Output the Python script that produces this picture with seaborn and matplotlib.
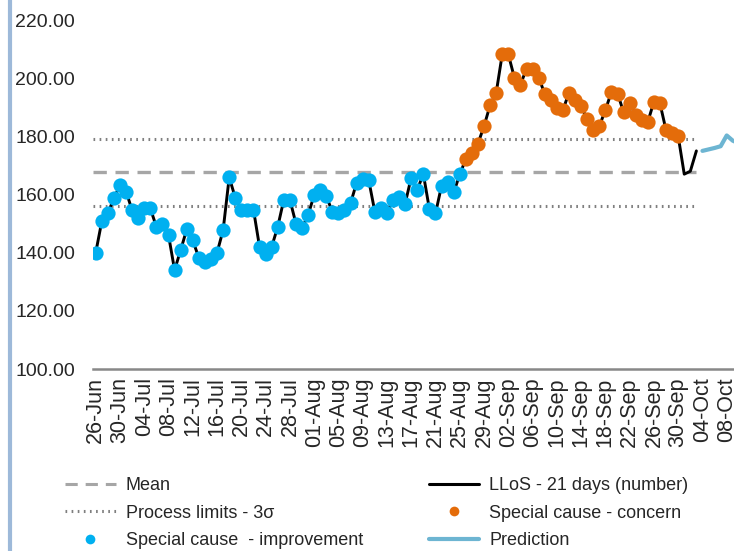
import matplotlib
matplotlib.use("Agg")
import matplotlib.pyplot as plt
from matplotlib.lines import Line2D
import pandas as pd
import seaborn as sns

# daily values, starting 26-Jun
START = "2021-06-26"
llos = [140.0, 150.8, 153.6, 158.7, 163.2, 161.0, 154.6, 152.0, 155.3, 155.2,
        148.9, 149.7, 146.0, 134.0, 140.9, 148.0, 144.2, 138.2, 136.8, 137.8,
        140.0, 147.8, 165.9, 158.9, 154.8, 154.8, 154.8, 142.0, 139.7, 142.0,
        148.9, 158.2, 158.2, 150.0, 148.4, 152.9, 159.8, 161.5, 159.5, 154.0,
        153.6, 154.8, 157.0, 164.0, 165.3, 164.9, 154.1, 155.2, 153.5, 158.2,
        159.2, 156.9, 165.8, 161.7, 167.0, 154.9, 153.5, 163.0, 164.4, 160.7,
        166.9, 172.2, 174.1, 177.5, 183.5, 190.7, 194.9, 208.2, 208.2, 200.2,
        197.8, 203.2, 203.0, 200.2, 194.7, 192.6, 189.6, 189.0, 195.0, 192.4,
        190.4, 185.8, 182.1, 183.5, 189.0, 195.3, 194.7, 188.4, 191.3, 187.3,
        185.6, 185.0, 191.9, 191.3, 182.1, 181.2, 180.1, 167.0, 168.0, 175.0]
signal = ["improvement"] * 61 + ["concern"] * 36 + ["none"] * 3
prediction = [175.0, 175.5, 176.0, 176.6, 180.3, 178.5, 177.6]

mean_value = 167.6
upper_limit = 179.0
lower_limit = 156.0

y_ticks = [100, 120, 140, 160, 180, 200, 220]

BLUE = "#00B0F0"
ORANGE = "#E46C0A"
PRED = "#6DB5D2"
DASH = (0, (4, 2.6))
DOT = (0, (0.55, 1.45))

dates = pd.date_range(START, periods=len(llos), freq="D")
df = pd.DataFrame({"date": dates, "llos": llos, "signal": signal})
pred_df = pd.DataFrame({
    "date": pd.date_range(dates[-1] + pd.Timedelta(days=1), periods=len(prediction), freq="D"),
    "value": prediction,
})
tick_dates = pd.date_range(START, periods=27, freq="4D")

sns.set_theme(style="white")
plt.rcParams["font.family"] = ["Liberation Sans", "DejaVu Sans"]

fig = plt.figure(figsize=(7.34, 5.51), dpi=100)
ax = fig.add_axes([0.1267, 0.3303, 0.8733, 0.6334])

day = pd.Timedelta(days=1)
x0 = dates[0] - 0.45 * day
x1 = dates[-1]
ax.hlines(mean_value, x0, x1, colors="#A6A6A6", linestyles=DASH, linewidth=2.4)
ax.hlines([upper_limit, lower_limit], x0, x1, colors="#7F7F7F",
          linestyles=DOT, linewidth=2.2)

sns.lineplot(data=df, x="date", y="llos", color="black", linewidth=2.1,
             estimator=None, ax=ax)
sns.lineplot(data=pred_df, x="date", y="value", color=PRED, linewidth=3,
             estimator=None, ax=ax)
sns.scatterplot(data=df[df["signal"] == "improvement"], x="date", y="llos",
                color=BLUE, s=105, linewidth=0, ax=ax, zorder=3)
sns.scatterplot(data=df[df["signal"] == "concern"], x="date", y="llos",
                color=ORANGE, s=105, linewidth=0, ax=ax, zorder=3)

ax.set_xlim(x0, dates[0] + 105.2 * day)
ax.set_ylim(100, 220)
ax.set_yticks(y_ticks)
ax.set_yticklabels([f"{v:.2f}" for v in y_ticks], fontsize=14, color="#262626")
ax.set_xticks(tick_dates)
ax.set_xticklabels([d.strftime("%d-%b") for d in tick_dates], rotation=90,
                   fontsize=15.5, color="#262626")
ax.tick_params(axis="y", length=0, pad=13)
ax.tick_params(axis="x", length=0, pad=6)
ax.set_xlabel("")
ax.set_ylabel("")
for side in ["top", "right", "left"]:
    ax.spines[side].set_visible(False)
ax.spines["bottom"].set_color("#888888")
ax.spines["bottom"].set_linewidth(1.8)
ax.spines["bottom"].set_zorder(0)

handles = [
    Line2D([], [], color="#A6A6A6", linestyle=DASH, linewidth=2.2),
    Line2D([], [], color="#7F7F7F", linestyle=DOT, linewidth=2.2),
    Line2D([], [], color=BLUE, marker="o", linestyle="none", markersize=7, markeredgewidth=0),
    Line2D([], [], color="black", linewidth=2.2),
    Line2D([], [], color=ORANGE, marker="o", linestyle="none", markersize=7, markeredgewidth=0),
    Line2D([], [], color=PRED, linewidth=3),
]
labels = [
    "Mean",
    "Process limits - 3σ",
    "Special cause  - improvement",
    "LLoS - 21 days (number)",
    "Special cause - concern",
    "Prediction",
]
fig.legend(handles, labels, ncol=2, loc="upper left", bbox_to_anchor=(0.0886, 0.1334),
           frameon=False, fontsize=13, handlelength=2.8, handletextpad=0.55,
           columnspacing=3.65, labelspacing=0.57, borderaxespad=0, borderpad=0)

fig.add_artist(Line2D([0.0136, 0.0136], [0, 1], transform=fig.transFigure,
                      color="#9DB9D9", linewidth=3))

fig.savefig("out.png", dpi=100)
